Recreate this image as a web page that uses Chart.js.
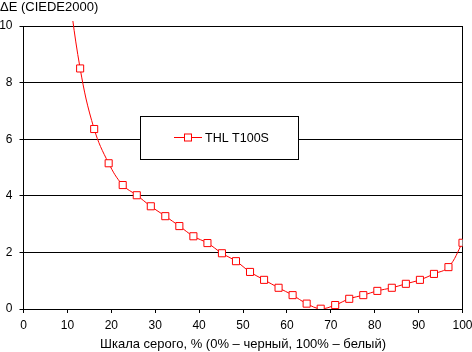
<!DOCTYPE html>
<html>
<head>
<meta charset="utf-8">
<script src="https://cdn.jsdelivr.net/npm/chart.js@4"></script>
<style>
  html, body { margin: 0; padding: 0; background: #fff; }
  #wrap { width: 472px; height: 352px; }
</style>
</head>
<body>
<div id="wrap"><canvas id="chart" width="472" height="352"></canvas></div>
<script>
// grey level, % (x) and measured deltaE (y)
const grayLevels = [9.7, 12.9, 16.1, 19.4, 22.6, 25.8, 29.0, 32.3, 35.5, 38.7, 41.9, 45.2, 48.4, 51.6,
    54.8, 58.1, 61.3, 64.5, 67.7, 71.0, 74.2, 77.4, 80.6, 83.9, 87.1, 90.3, 93.5, 96.8, 100];
const deltaE = [12.0, 8.5, 6.36, 5.15, 4.38, 4.02, 3.63, 3.28, 2.93, 2.57, 2.33, 1.97, 1.69, 1.31,
    1.03, 0.75, 0.49, 0.19, 0.01, 0.14, 0.36, 0.49, 0.64, 0.75, 0.89, 1.03, 1.24, 1.48, 2.34];
const seriesName = 'THL T100S';
const yTitle = 'ΔE (CIEDE2000)';
const xTitle = 'Шкала серого, % (0% – черный, 100% – белый)';

const FAMILY = 'Arial, "Liberation Sans", sans-serif';
const TICK_FONT = { family: FAMILY, size: 12 };
const TITLE_FONT = { family: FAMILY, size: 13, weight: 'normal' };

// boxed legend sitting inside the plot, like the original
const boxLegend = {
    id: 'boxLegend',
    afterDraw(chart) {
        const ctx = chart.ctx;
        const ds = chart.data.datasets[0];
        ctx.save();
        ctx.fillStyle = '#fff';
        ctx.strokeStyle = '#000';
        ctx.lineWidth = 1;
        ctx.fillRect(140.5, 116.5, 158, 43);
        ctx.strokeRect(140.5, 116.5, 158, 43);
        const cy = 137.5;
        ctx.strokeStyle = ds.borderColor;
        ctx.beginPath();
        ctx.moveTo(174, cy);
        ctx.lineTo(202, cy);
        ctx.stroke();
        ctx.fillStyle = '#fff';
        ctx.fillRect(184.5, cy - 3.5, 7, 7);
        ctx.strokeRect(184.5, cy - 3.5, 7, 7);
        ctx.fillStyle = '#000';
        ctx.font = '12.5px ' + FAMILY;
        ctx.textBaseline = 'middle';
        ctx.fillText(ds.label, 205, cy + 1);
        ctx.restore();
    }
};

new Chart(document.getElementById('chart'), {
    type: 'line',
    data: {
        datasets: [{
            label: seriesName,
            data: grayLevels.map((x, i) => ({ x: x, y: deltaE[i] })),
            borderColor: '#ff0000',
            borderWidth: 1,
            backgroundColor: '#ffffff',
            pointStyle: 'rect',
            pointRadius: 5,
            pointBorderWidth: 1,
            pointBorderColor: '#ff0000',
            pointBackgroundColor: '#ffffff',
            tension: 0.4,
            clip: { left: 0, top: 5, right: 0, bottom: 0 }
        }]
    },
    options: {
        responsive: false,
        animation: false,
        layout: { autoPadding: false, padding: { left: 0, right: 9.5, top: 0, bottom: 0 } },
        plugins: {
            legend: { display: false },
            tooltip: { enabled: false },
            title: {
                display: true,
                text: yTitle,
                align: 'start',
                color: '#000',
                font: TITLE_FONT,
                padding: { top: 0, bottom: 10.4 }
            }
        },
        scales: {
            x: {
                type: 'linear',
                min: 0,
                max: 100,
                ticks: { stepSize: 10, color: '#000', font: TICK_FONT, padding: 5, maxRotation: 0 },
                grid: {
                    color: c => (c.tick && c.tick.value === 100 ? '#000' : 'rgba(0,0,0,0)'),
                    tickColor: '#000',
                    tickLength: 4
                },
                border: { color: '#000', width: 1 },
                title: { display: true, text: xTitle, color: '#000', font: TITLE_FONT, padding: { top: 0, bottom: 0 } },
                afterFit(scale) {
                    scale.height = 43;
                    scale.paddingLeft = 0;
                    scale.paddingRight = 0;
                }
            },
            y: {
                min: 0,
                max: 10,
                ticks: { stepSize: 2, color: '#000', font: TICK_FONT, padding: 7 },
                grid: { color: '#000', tickColor: '#000', tickLength: 4 },
                border: { color: '#000', width: 1 },
                afterFit(scale) { scale.width = 23.5; }
            }
        }
    },
    plugins: [boxLegend]
});
</script>
</body>
</html>
